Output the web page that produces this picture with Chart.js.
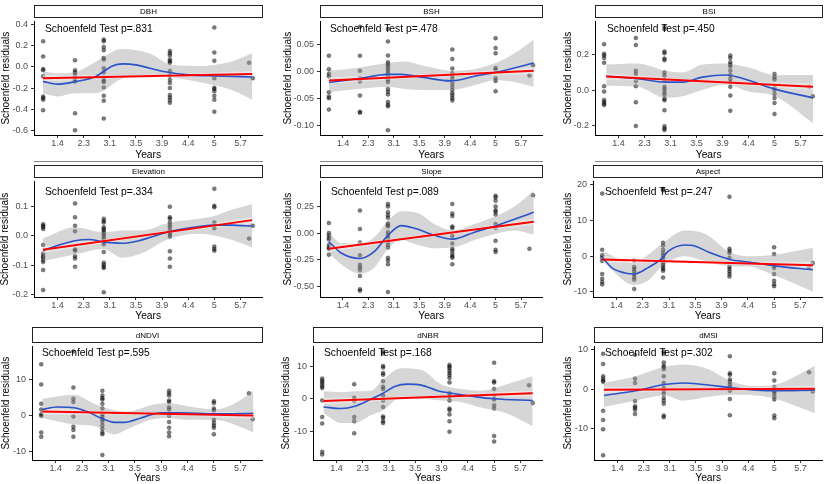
<!DOCTYPE html>
<html><head><meta charset="utf-8">
<script src="https://cdn.jsdelivr.net/npm/chart.js@4.4.1/dist/chart.umd.min.js"></script>
<style>
html,body{margin:0;padding:0;background:#fff;}
body{width:827px;height:484px;position:relative;overflow:hidden;font-family:"Liberation Sans",Arial,sans-serif;}
canvas{position:absolute;}
.strip{position:absolute;box-sizing:border-box;border:1px solid #222;background:#fff;font-size:8px;color:#000;display:flex;align-items:center;justify-content:center;will-change:transform;}
.note{position:absolute;font-size:10.3px;color:#000;white-space:nowrap;line-height:1;transform:translateY(-50%);}
.sep{position:absolute;height:1px;background:#888;}
</style></head><body>
<script>
// ---------------- DATA ----------------
const tickLabels = ['1.4','2.3','3.1','3.5','3.9','4.4','5','5.7'];
const tickPos = [0,1,2,3,4,5,6,7];
const columnX = [-0.55, 0.67, 1.77, 4.3, 6.0, 7.33, 7.47];
const panelNames = ['DBH','BSH','BSI','Elevation','Slope','Aspect','dNDVI','dNBR','dMSI'];
const pValues = ['.831','.478','.450','.334','.089','.247','.595','.168','.302'];

// y-axis ticks / ranges / decimals
const yTicks = [
  [-0.6,-0.4,-0.2,0.0,0.2,0.4],
  [-0.10,-0.05,0.00,0.05],
  [-0.2,0.0,0.2],
  [-0.2,-0.1,0.0,0.1],
  [-0.50,-0.25,0.00,0.25],
  [-10,0,10,20],
  [-10,0,10],
  [-10,0,10],
  [-10,0,10]
];
const yRanges = [[-0.646,0.433],[-0.118,0.092],[-0.255,0.389],[-0.208,0.186],[-0.599,0.49],[-11.44,21.0],[-12.5,19.2],[-18.8,16.1],[-18.0,10.9]];
const yDecimals = [1,2,1,1,2,0,0,0,0];
const xRange = [-0.9, 7.84];

// residuals per column (A..G)
const dbhResid = [
  [0.244,0.10,-0.02,-0.03,-0.088,-0.28,-0.295,-0.31,-0.41],
  [0.064,-0.03,-0.05,-0.073,-0.10,-0.12,-0.137,-0.44,-0.60],
  [0.26,0.244,0.19,0.16,0.085,0.07,-0.012,-0.05,-0.10,-0.128,-0.143,-0.195,-0.274,-0.32,-0.49],
  [0.152,0.13,0.11,0.07,0.055,0.04,-0.037,-0.082,-0.122,-0.152,-0.20,-0.265,-0.29,-0.314,-0.34],
  [0.375,0.137,0.06,-0.107,-0.198,-0.21,-0.23,-0.274,-0.31,-0.424],
  [0.04],[-0.107]];
const bshResid = [
  [0.0286,0.0036,-0.005,-0.0095,-0.039,-0.047,-0.05,-0.071],
  [0.082,0.0286,0.0006,-0.013,-0.019,-0.045,-0.075,-0.0768],
  [0.078,0.055,0.029,0.0167,0.0125,0.0095,0.005,0.0006,-0.004,-0.0095,-0.015,-0.02,-0.033,-0.038,-0.043,-0.057,-0.062,-0.065,-0.109],
  [0.04,0.0226,0.0048,-0.004,-0.008,-0.014,-0.023,-0.029,-0.035,-0.041,-0.045,-0.05,-0.054],
  [0.061,0.043,0.033,0.006,0.002,-0.013,-0.018,-0.037],
  [-0.008],[0.011]];
const bsiResid = [
  [0.26,0.205,0.196,0.182,0.155,0.022,-0.009,-0.056,-0.067,-0.078,-0.085],
  [0.295,0.255,0.109,0.091,0.051,0.022,-0.069,-0.204],
  [0.358,0.345,0.218,0.209,0.178,0.169,0.10,0.082,0.055,0.018,0.004,-0.013,-0.027,-0.049,-0.058,-0.115,-0.205,-0.218,-0.227],
  [0.195,0.182,0.158,0.145,0.133,0.109,0.085,0.064,0.045,0.018,-0.031,-0.118],
  [0.091,0.073,0.06,0.013,0.0,-0.022,-0.045,-0.073,-0.136],
  [0.018],[-0.036]];
const elevResid = [
  [0.04,0.035,0.03,0.024,-0.031,-0.061,-0.069,-0.074,-0.082,-0.089,-0.116,-0.184],
  [0.111,0.064,0.035,0.016,-0.045,-0.05,-0.069,-0.077,-0.105],
  [0.059,0.051,0.046,0.03,0.024,0.019,0.011,0.004,-0.003,-0.011,-0.02,-0.028,-0.055,-0.091,-0.098,-0.105,-0.109,-0.192],
  [0.10,0.064,0.059,0.046,0.037,0.03,0.019,0.011,0.004,-0.003,-0.052,-0.077,-0.105],
  [0.161,0.103,0.098,0.046,0.035,0.026,-0.036,-0.044,-0.05],
  [-0.009],[0.035]];
const slopeResid = [
  [0.097,0.003,-0.018,-0.042,-0.057,-0.109,-0.133,-0.145,-0.20],
  [0.215,0.042,-0.085,-0.206,-0.296,-0.32,-0.345,-0.40,-0.526,-0.541],
  [0.278,0.254,0.20,0.172,0.148,0.094,0.079,0.066,0.012,-0.018,-0.042,-0.079,-0.109,-0.133,-0.23,-0.254,-0.29,-0.553],
  [0.278,0.187,0.163,0.066,0.051,-0.024,-0.094,-0.145,-0.163,-0.193,-0.215,-0.23,-0.29],
  [0.354,0.339,0.308,0.254,0.218,0.203,0.178,0.088,0.051,-0.07,-0.154,-0.175],
  [-0.145],[0.36]];
const aspectResid = [
  [17.6,1.8,0.3,-0.45,-1.35,-5.0,-6.3,-7.2,-7.9],
  [-1.2,-3.0,-3.6,-4.3,-5.1,-5.9,-6.6,-9.2],
  [18.9,18.5,3.8,3.0,1.8,0.9,0.2,-0.45,-1.2,-1.8,-2.4,-3.0,-3.6,-4.1,-6.0],
  [16.7,2.1,1.5,0.9,-0.45,-3.0,-3.6,-4.3,-5.0,-5.7],
  [2.5,0.6,-2.7,-3.3,-5.0,-6.9,-7.8,-8.4],
  [-3.2],[-1.9]];
const ndviResid = [
  [14.2,8.6,3.2,1.6,0.27,-0.18,-4.8,-6.0],
  [17.8,7.7,4.6,3.7,-0.36,-3.2,-4.1,-6.0],
  [6.8,5.5,4.8,4.4,3.2,1.9,0.27,-0.36,-1.1,-1.9,-2.9,-3.8,-4.8,-5.3,-11.1],
  [6.8,6.1,5.5,4.1,3.7,2.2,1.6,-0.18,-1.9,-3.5,-4.8,-5.9],
  [3.9,3.4,1.9,1.3,-1.3,-2.2,-2.9,-3.5,-5.3],
  [6.1],[-1.1]];
const nbrResid = [
  [6.2,5.6,5.1,4.5,3.8,3.3,-0.5,-5.6,-7.6,-16.3,-17.1],
  [4.5,0.3,-0.2,-0.7,-5.6,-6.9,-10.6],
  [14.6,13.9,10.1,9.6,7.9,7.4,5.4,3.7,3.0,1.0,-0.5,-2.5,-5.4,-5.9,-6.9,-7.4],
  [10.4,9.9,9.4,8.6,7.9,7.2,6.4,5.0,1.7,0.7,-0.5,-3.0,-3.5,-4.8,-6.9,-10.1],
  [11.1,5.4,5.0,3.0,1.0,-0.2,-2.0,-3.0,-11.4,-13.1],
  [4.2],[-1.3]];
const msiResid = [
  [9.0,6.4,3.3,2.7,2.2,1.9,-5.5,-7.8,-10.2,-16.8],
  [8.8,2.7,1.6,-3.0,-4.3,-4.7,-5.2,-6.3],
  [9.6,9.0,6.8,5.9,5.6,5.1,3.3,1.6,0.4,-0.4,-1.1,-2.2,-2.9,-3.7,-6.7,-7.1],
  [8.4,4.1,3.7,2.5,1.9,1.2,0.6,-0.4,-2.5,-6.6],
  [4.1,2.2,0.6,0.0,-0.6,-1.1,-1.9,-2.6,-6.7,-7.4],
  [4.3],[-0.6]];

// loess smooth [x, y]
const dbhLoess = [[-0.56,-0.137],[0.0,-0.163],[0.66,-0.14],[1.46,-0.09],[2.1,0.01],[2.48,0.03],[3.0,0.02],[4.0,-0.04],[5.0,-0.075],[6.0,-0.085],[7.45,-0.095]];
const bshLoess = [[-0.55,-0.021],[0.59,-0.014],[1.77,-0.006],[2.29,-0.006],[3.08,-0.011],[4.25,-0.018],[5.17,-0.0095],[6.02,-0.002],[7.5,0.015]];
const bsiLoess = [[-0.47,0.078],[0.74,0.064],[1.81,0.045],[2.47,0.045],[3.23,0.073],[4.12,0.085],[4.75,0.067],[6.02,0.005],[7.48,-0.045]];
const elevLoess = [[-0.56,-0.05],[-0.06,-0.034],[0.66,-0.016],[1.21,-0.012],[1.76,-0.02],[2.48,-0.025],[3.12,-0.016],[4.29,0.015],[5.41,0.032],[6.0,0.037],[6.69,0.037],[7.45,0.033]];
const slopeLoess = [[-0.55,-0.079],[-0.07,-0.184],[0.68,-0.236],[1.24,-0.169],[1.77,-0.018],[2.29,0.073],[2.81,0.048],[3.6,-0.018],[4.32,-0.054],[5.17,0.012],[6.02,0.073],[7.5,0.2]];
const aspectLoess = [[-0.53,-0.45],[-0.19,-3.2],[0.32,-4.7],[0.66,-5.0],[1.2,-3.2],[1.75,-0.45],[1.96,1.35],[2.6,3.15],[2.98,2.9],[3.49,1.2],[4.31,-0.9],[5.01,-1.6],[6.02,-2.7],[7.48,-3.8]];
const ndviLoess = [[-0.51,1.6],[0.06,2.3],[0.70,2.1],[1.2,1.0],[1.71,-0.8],[2.22,-2.0],[2.59,-2.0],[3.23,-0.8],[3.99,0.7],[4.75,0.7],[6.05,0.36],[7.5,0.54]];
const nbrLoess = [[-0.5,-2.5],[0.19,-3.0],[0.69,-2.3],[1.2,-0.5],[1.77,1.7],[2.21,3.8],[2.71,4.5],[3.22,4.2],[3.85,2.5],[4.31,1.8],[5.23,0.7],[5.99,0.0],[7.47,-0.5]];
const msiLoess = [[-0.52,-1.6],[0.69,-0.4],[1.79,1.2],[2.51,1.6],[3.28,1.2],[4.36,0.4],[5.32,-0.25],[6.06,-0.4],[7.55,-0.25]];

// confidence band [x, upper, lower]
const dbhBand = [[-0.56,-0.04,-0.25],[0.0,-0.06,-0.28],[0.66,-0.05,-0.25],[1.46,0.05,-0.25],[2.48,0.17,-0.11],[3.5,0.13,-0.076],[4.4,0.018,-0.098],[5.41,0.01,-0.143],[6.69,0.055,-0.22],[7.45,0.13,-0.31]];
const bshBand = [[-0.55,0.0006,-0.039],[0.59,0.0065,-0.033],[1.77,0.015,-0.029],[2.42,0.018,-0.033],[3.21,0.0095,-0.035],[4.25,0.0006,-0.035],[5.17,0.0036,-0.026],[6.02,0.0155,-0.017],[6.74,0.033,-0.02],[7.5,0.058,-0.029]];
const bsiBand = [[-0.47,0.145,0.024],[0.74,0.151,0.018],[1.81,0.109,-0.045],[2.47,0.10,-0.036],[3.23,0.145,0.0],[4.12,0.151,0.031],[5.01,0.127,-0.009],[6.02,0.085,-0.035],[7.48,0.085,-0.187]];
const elevBand = [[-0.56,-0.009,-0.085],[0.66,0.03,-0.063],[1.76,0.013,-0.044],[2.48,0.019,-0.074],[3.25,0.019,-0.058],[4.29,0.046,-0.009],[5.41,0.059,0.008],[6.0,0.068,0.002],[6.69,0.09,-0.014],[7.45,0.109,-0.039]];
const slopeBand = [[-0.55,0.012,-0.184],[-0.07,-0.09,-0.29],[0.68,-0.094,-0.381],[1.24,-0.033,-0.32],[1.77,0.118,-0.145],[2.29,0.208,-0.063],[2.94,0.193,-0.109],[3.6,0.088,-0.139],[4.32,0.027,-0.133],[5.17,0.088,-0.063],[6.02,0.163,-0.003],[6.74,0.254,0.027],[7.5,0.405,-0.012]];
const aspectBand = [[-0.53,1.35,-1.35],[0.66,-1.8,-8.1],[1.2,0.45,-6.8],[1.75,3.6,-2.7],[2.6,7.2,0.0],[3.36,6.3,-1.35],[4.31,1.2,-2.8],[5.01,0.0,-2.9],[6.02,0.45,-5.4],[7.48,2.4,-9.9]];
const ndviBand = [[-0.51,4.6,-0.8],[0.70,5.7,-2.6],[1.46,3.2,-3.0],[2.22,1.4,-5.3],[2.72,1.0,-3.9],[3.61,2.8,-1.3],[4.24,3.4,-0.8],[5.0,2.5,-1.3],[6.05,1.6,-1.3],[6.77,3.2,-2.6],[7.5,6.8,-4.8]];
const nbrBand = [[-0.5,2.3,-4.5],[0.19,2.0,-7.4],[0.69,2.3,-7.4],[1.32,2.5,-5.0],[1.77,5.9,-3.5],[2.46,9.4,0.5],[3.22,8.9,0.0],[3.97,4.5,-0.5],[4.73,3.0,-1.0],[5.49,2.5,-2.7],[6.49,4.5,-4.5],[7.47,6.9,-8.4]];
const msiBand = [[-0.52,1.6,-4.5],[0.69,3.3,-2.9],[1.79,5.7,-1.6],[2.51,6.3,-2.9],[3.41,5.3,-2.0],[4.36,2.0,-1.4],[5.32,0.8,-1.6],[6.06,1.2,-2.5],[7.55,6.0,-6.1]];

// linear fit [[x0,y0],[x1,y1]] and its half-width (left, middle, right)
const dbhLinear = [[-0.56,-0.107],[7.45,-0.067]];
const bshLinear = [[-0.55,-0.0173],[7.5,0.0006]];
const bsiLinear = [[-0.47,0.076],[7.48,0.018]];
const elevLinear = [[-0.56,-0.047],[7.45,0.054]];
const slopeLinear = [[-0.55,-0.145],[7.5,0.109]];
const aspectLinear = [[-0.53,-0.9],[7.48,-2.5]];
const ndviLinear = [[-0.51,1.0],[7.5,-0.1]];
const nbrLinear = [[-0.5,-0.7],[7.47,1.7]];
const msiLinear = [[-0.52,-0.15],[7.55,0.15]];
const linearSE = [[0.03,0.014,0.03],[0.006,0.003,0.006],[0.018,0.008,0.018],[0.011,0.005,0.011],[0.03,0.014,0.03],[0.9,0.4,0.9],[0.9,0.4,0.9],[0.95,0.45,0.95],[0.8,0.37,0.8]];

const allResid = [dbhResid,bshResid,bsiResid,elevResid,slopeResid,aspectResid,ndviResid,nbrResid,msiResid];
const allLoess = [dbhLoess,bshLoess,bsiLoess,elevLoess,slopeLoess,aspectLoess,ndviLoess,nbrLoess,msiLoess];
const allBand = [dbhBand,bshBand,bsiBand,elevBand,slopeBand,aspectBand,ndviBand,nbrBand,msiBand];
const allLinear = [dbhLinear,bshLinear,bsiLinear,elevLinear,slopeLinear,aspectLinear,ndviLinear,nbrLinear,msiLinear];

// ---------------- LAYOUT (page px) ----------------
const plotLeft  = [34,320,595, 34,320,593, 32,313,594];
const plotRight = [263,543,823, 263,543,823, 263,543,823];
const rowTop    = [17,177,342];
const rowBottom = [135,297,460];
const stripTop  = [5,165,327];
const yearsY    = [155,316,478];
const noteY     = [29,192,353];
const noteX     = [45,330,607, 45,331,605, 42,324,605];
const yTitleX   = [6,288,568, 5,288,568, 6,286,568];

Chart.defaults.font.family = '"Liberation Sans", Arial, sans-serif';

function pts(arr){ return arr.map(p => ({x:p[0], y:p[1]})); }

for (let i = 0; i < 9; i++) {
  const row = Math.floor(i/3);
  const pl = plotLeft[i], pr = plotRight[i], pt = rowTop[row], pb = rowBottom[row];
  const cellLeft = Math.round(yTitleX[i] - 6);
  const cellTop = pt - 4;
  const cellRight = Math.min(827, pr + 4);
  const cellBottom = Math.round(yearsY[row] + 6.2);
  const W = cellRight - cellLeft, H = cellBottom - cellTop;
  const yAxisW = pl - cellLeft;
  const xAxisH = cellBottom - pb;
  const padRight = cellRight - pr;

  const cv = document.createElement('canvas');
  cv.width = W; cv.height = H;
  cv.style.left = cellLeft + 'px'; cv.style.top = cellTop + 'px';
  cv.style.width = W + 'px'; cv.style.height = H + 'px';
  document.body.appendChild(cv);

  // points
  const scatter = [];
  allResid[i].forEach((col, c) => col.forEach(v => scatter.push({x: columnX[c], y: v})));
  const band = allBand[i];
  const lin = allLinear[i];
  const se = linearSE[i];
  const midX = (lin[0][0] + lin[1][0]) / 2, midY = (lin[0][1] + lin[1][1]) / 2;
  const linUp = [{x:lin[0][0],y:lin[0][1]+se[0]},{x:midX,y:midY+se[1]},{x:lin[1][0],y:lin[1][1]+se[2]}];
  const linLo = [{x:lin[0][0],y:lin[0][1]-se[0]},{x:midX,y:midY-se[1]},{x:lin[1][0],y:lin[1][1]-se[2]}];

  const dec = yDecimals[i];
  const yt = yTicks[i];
  new Chart(cv, {
    type: 'line',
    data: { datasets: [
      { type:'line', data: pts(lin), borderColor:'#ff0000', borderWidth:2, pointRadius:0, fill:false, order:0 },
      { type:'line', data: pts(allLoess[i]), borderColor:'#2a52c9', borderWidth:1.6, pointRadius:0, fill:false, cubicInterpolationMode:'monotone', order:1 },
      { type:'line', data: linUp, borderColor:'rgba(0,0,0,0)', borderWidth:0, pointRadius:0, fill:'+1', backgroundColor:'rgba(255,255,255,0.38)', tension:0.4, order:2 },
      { type:'line', data: linLo, borderColor:'rgba(0,0,0,0)', borderWidth:0, pointRadius:0, fill:false, tension:0.4, order:2 },
      { type:'line', data: band.map(b=>({x:b[0],y:b[1]})), borderColor:'rgba(0,0,0,0)', borderWidth:0, pointRadius:0, fill:'+1', backgroundColor:'rgba(153,153,153,0.4)', cubicInterpolationMode:'monotone', order:3 },
      { type:'line', data: band.map(b=>({x:b[0],y:b[2]})), borderColor:'rgba(0,0,0,0)', borderWidth:0, pointRadius:0, fill:false, cubicInterpolationMode:'monotone', order:3 },
      { type:'scatter', data: scatter, showLine:false, pointRadius:2, pointBorderWidth:0.6, backgroundColor:'rgba(0,0,0,0.5)', borderColor:'rgba(0,0,0,0.45)', order:4 }
    ]},
    options: {
      responsive:false, animation:false, devicePixelRatio:1,
      layout:{ padding:{ left:0, top:pt-cellTop, right:padRight, bottom:0 } },
      plugins:{ legend:{display:false}, tooltip:{enabled:false} },
      scales:{
        x:{ type:'linear', position:'bottom', min:xRange[0], max:xRange[1],
          afterBuildTicks: s => { s.ticks = tickPos.map(v => ({value:v})); },
          afterFit: s => { s.height = xAxisH; },
          ticks:{ autoSkip:false, maxRotation:0, padding:0.5, color:'#4d4d4d', font:{size:9},
                  callback: v => { const k = tickPos.indexOf(v); return k >= 0 ? tickLabels[k] : ''; } },
          grid:{ drawOnChartArea:false, tickLength:3, color:'#333' },
          border:{ display:true, color:'#000', width:1 },
          title:{ display:true, text:'Years', color:'#000', font:{size:10.3}, padding:0 }
        },
        y:{ type:'linear', position:'left', min:yRanges[i][0], max:yRanges[i][1],
          afterBuildTicks: s => { s.ticks = yt.map(v => ({value:v})); },
          afterFit: s => { s.width = yAxisW; },
          ticks:{ autoSkip:false, padding:3, color:'#4d4d4d', font:{size:9},
                  callback: v => Number(v).toFixed(dec) },
          grid:{ drawOnChartArea:false, tickLength:3, color:'#333' },
          border:{ display:true, color:'#000', width:1 },
          title:{ display:true, text:'Schoenfeld residuals', color:'#000', font:{size:10}, padding:0 }
        }
      }
    }
  });

  // strip header
  const st = document.createElement('div');
  st.className = 'strip';
  st.style.left = pl + 'px'; st.style.top = stripTop[row] + 'px';
  st.style.width = (pr - pl) + 'px'; st.style.height = (pt - stripTop[row] + 1) + 'px';
  st.textContent = panelNames[i];
  document.body.appendChild(st);

  // annotation
  const nt = document.createElement('div');
  nt.className = 'note';
  nt.style.left = noteX[i] + 'px'; nt.style.top = noteY[row] + 'px';
  nt.textContent = 'Schoenfeld Test p=' + pValues[i];
  document.body.appendChild(nt);

  if (row === 0) {
    const sp = document.createElement('div');
    sp.className = 'sep';
    sp.style.left = pl + 'px'; sp.style.top = '161px'; sp.style.width = (pr - pl) + 'px';
    document.body.appendChild(sp);
  }
}
</script>
</body></html>
